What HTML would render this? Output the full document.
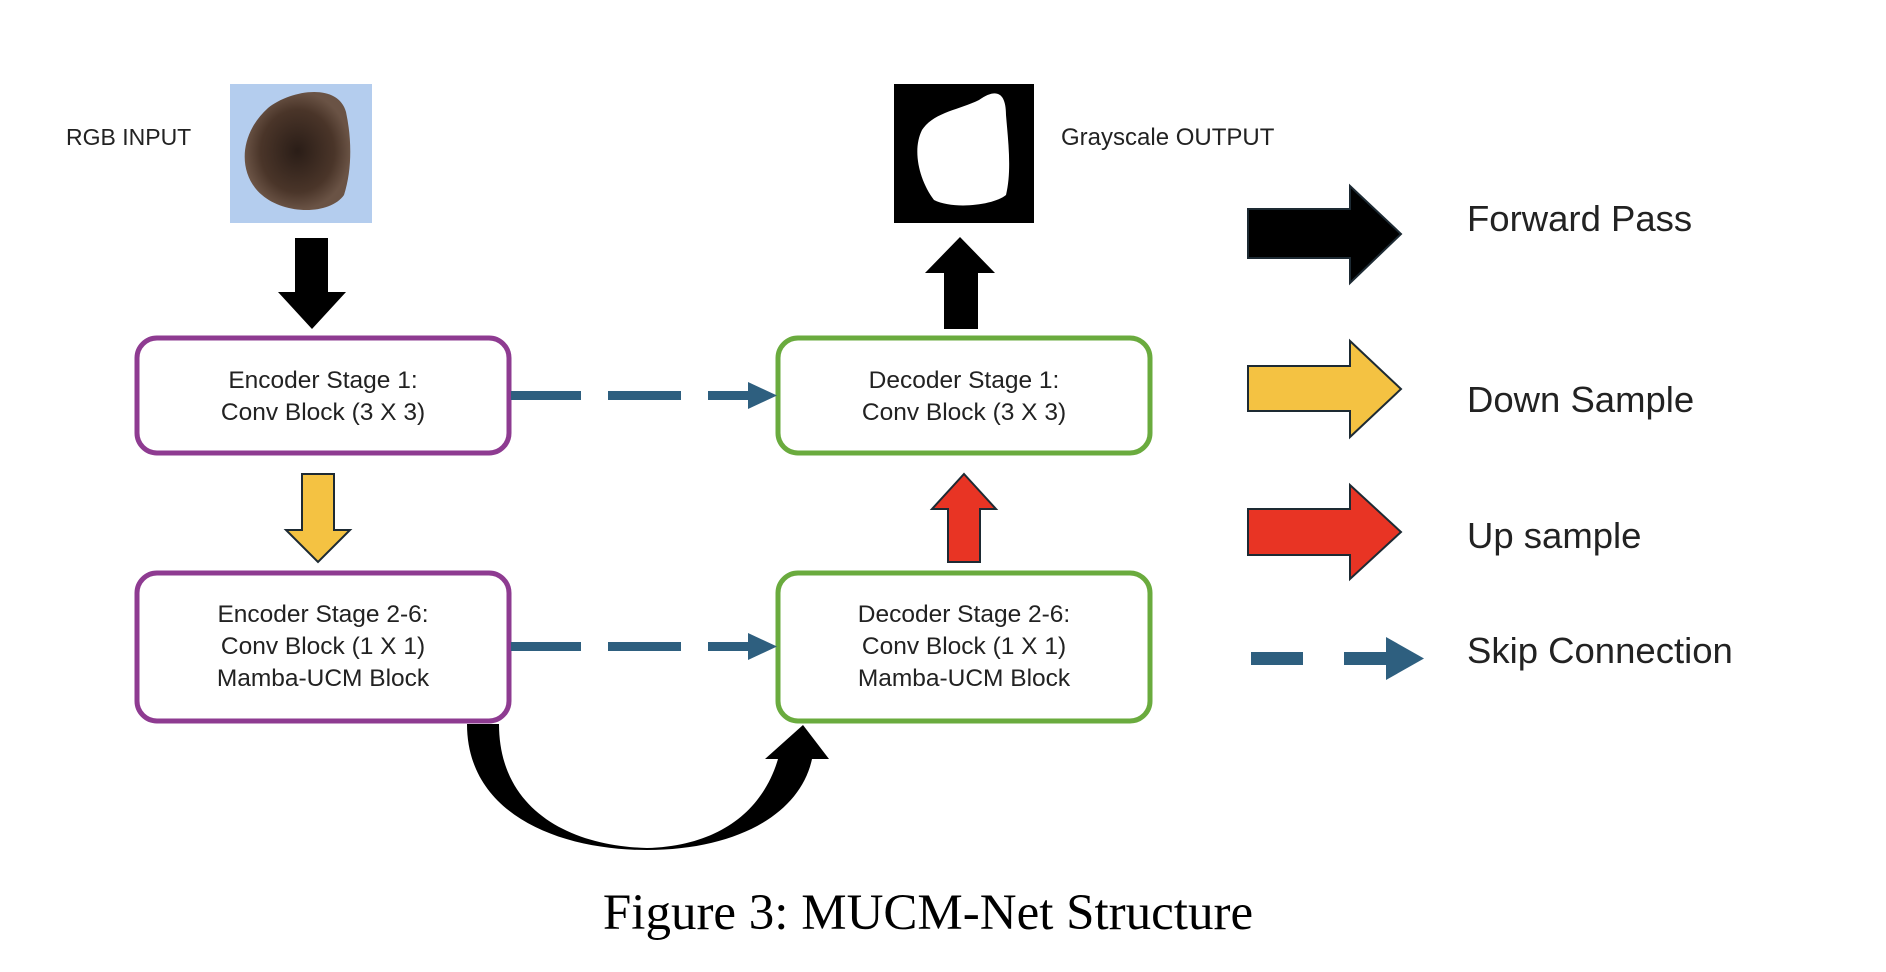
<!DOCTYPE html>
<html><head><meta charset="utf-8"><style>
html,body{margin:0;padding:0;background:#fff;}
svg{display:block;}
text{font-family:"Liberation Sans",sans-serif;fill:#222;}
</style></head><body>
<svg width="1886" height="972" viewBox="0 0 1886 972" xmlns="http://www.w3.org/2000/svg">
<defs>
<radialGradient id="mole" cx="50%" cy="50%" r="50%">
<stop offset="0" stop-color="#2a1d17"/><stop offset="0.7" stop-color="#4a3529"/><stop offset="1" stop-color="#6a5345"/>
</radialGradient>
</defs>
<!-- input -->
<text x="66" y="145" font-size="23">RGB INPUT</text>
<rect x="230" y="84" width="142" height="139" fill="#b4cdee"/>
<path d="M268,108 C290,90 338,82 346,112 C352,140 352,170 344,195 C330,215 285,215 262,195 C238,175 238,135 268,108 Z" fill="url(#mole)"/>
<!-- output -->
<rect x="894" y="84" width="140" height="139" fill="#000"/>
<path d="M979,100 C996,88 1006,92 1006,115 C1008,140 1012,170 1006,195 C994,205 954,210 934,200 C919,180 912,150 922,130 C934,112 959,110 979,100 Z" fill="#fff"/>
<text x="1061" y="145" font-size="24">Grayscale OUTPUT</text>
<!-- black down arrow -->
<polygon points="295,238 328,238 328,292 346,292 312,329 278,292 295,292" fill="#000"/>
<!-- black up arrow -->
<polygon points="960,237 995,273 978,273 978,329 944,329 944,273 925,273" fill="#000"/>
<!-- boxes -->
<rect x="137" y="338" width="372" height="115" rx="20" fill="#fff" stroke="#8e3b91" stroke-width="5"/>
<rect x="137" y="573" width="372" height="148" rx="20" fill="#fff" stroke="#8e3b91" stroke-width="5"/>
<rect x="778" y="338" width="372" height="115" rx="20" fill="#fff" stroke="#6aab3e" stroke-width="5"/>
<rect x="778" y="573" width="372" height="148" rx="20" fill="#fff" stroke="#6aab3e" stroke-width="5"/>
<g font-size="24.5" text-anchor="middle">
<text x="323" y="388">Encoder Stage 1:</text>
<text x="323" y="420">Conv Block (3 X 3)</text>
<text x="323" y="622">Encoder Stage 2-6:</text>
<text x="323" y="654">Conv Block (1 X 1)</text>
<text x="323" y="686">Mamba-UCM Block</text>
<text x="964" y="388">Decoder Stage 1:</text>
<text x="964" y="420">Conv Block (3 X 3)</text>
<text x="964" y="622">Decoder Stage 2-6:</text>
<text x="964" y="654">Conv Block (1 X 1)</text>
<text x="964" y="686">Mamba-UCM Block</text>
</g>
<!-- yellow down -->
<polygon points="302,474 334,474 334,530 350,530 318,562 286,530 302,530" fill="#f4c242" stroke="#1d2a33" stroke-width="2"/>
<!-- red up -->
<polygon points="964,474 996,509 980,509 980,562 948,562 948,509 932,509" fill="#e83424" stroke="#1d2a33" stroke-width="2"/>
<!-- skip connections -->
<g fill="#2e5f7f">
<rect x="511" y="391" width="70" height="9"/><rect x="608" y="391" width="73" height="9"/><rect x="708" y="391" width="44" height="9"/>
<polygon points="748,382 777,395.5 748,409"/>
<rect x="511" y="642" width="70" height="9"/><rect x="608" y="642" width="73" height="9"/><rect x="708" y="642" width="44" height="9"/>
<polygon points="748,633 777,646.5 748,660"/>
</g>
<!-- curved arrow -->
<path d="M467,724 C467,815 560,850 647,850 C735,850 800,815 812,759 L829,759 L803,725 L765,759 L778,759 C763,810 720,846 647,848 C570,846 499,810 499,724 Z" fill="#000"/>
<!-- legend -->
<polygon points="1248,209 1350,209 1350,186 1401,234 1350,283 1350,258 1248,258" fill="#000" stroke="#1d2a33" stroke-width="2"/>
<polygon points="1248,366 1350,366 1350,341 1401,389 1350,437 1350,411 1248,411" fill="#f4c242" stroke="#1d2a33" stroke-width="2"/>
<polygon points="1248,509 1350,509 1350,485 1401,532 1350,579 1350,555 1248,555" fill="#e83424" stroke="#1d2a33" stroke-width="2"/>
<g fill="#2e5f7f">
<rect x="1251" y="652" width="52" height="13"/><rect x="1344" y="652" width="45" height="13"/>
<polygon points="1386,637 1424,658.5 1386,680"/>
</g>
<g font-size="36.5">
<text x="1467" y="231">Forward Pass</text>
<text x="1467" y="412">Down Sample</text>
<text x="1467" y="548">Up sample</text>
<text x="1467" y="663">Skip Connection</text>
</g>
<text x="928" y="929" font-size="51" text-anchor="middle" style="font-family:'Liberation Serif',serif;fill:#000">Figure 3: MUCM-Net Structure</text>
</svg>
</body></html>
